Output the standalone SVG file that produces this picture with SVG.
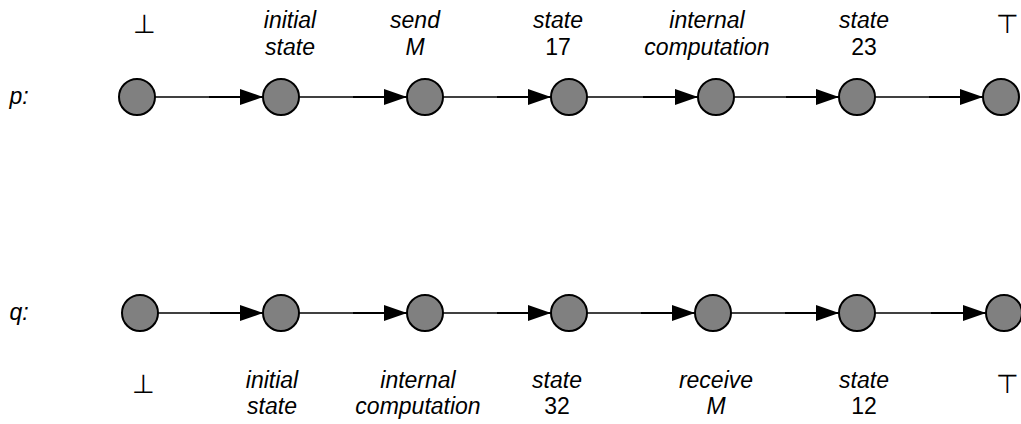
<svg xmlns="http://www.w3.org/2000/svg" width="1021" height="424" viewBox="0 0 1021 424">
<style>
.n{fill:#808080;stroke:#000;stroke-width:2}
.t{font-family:"Liberation Sans",Arial,sans-serif;font-size:23px;font-style:italic;text-anchor:middle;fill:#000}
.u{font-family:"Liberation Sans",Arial,sans-serif;font-size:23px;text-anchor:middle;fill:#000}
.s{font-family:"DejaVu Sans",sans-serif;font-size:26px;font-weight:200;text-anchor:middle;fill:#000}
.l1{stroke:#000;stroke-width:1.4;fill:none}
.l2{stroke:#000;stroke-width:2.2;fill:none}
</style>
<defs>
<marker id="ah" markerUnits="userSpaceOnUse" markerWidth="24" markerHeight="18" viewBox="0 0 24 18" refX="23" refY="9" orient="auto">
<path d="M0,1 L23,9 L0,17 z" fill="#000"/>
</marker>
</defs>
<text class="t" x="19" y="104">p:</text>
<text class="t" x="19" y="320">q:</text>
<g id="connectors">
<path class="l1" d="M155,97 H209"/><path class="l2" d="M209,97 H263" marker-end="url(#ah)"/>
<path class="l1" d="M299,97 H353"/><path class="l2" d="M353,97 H407" marker-end="url(#ah)"/>
<path class="l1" d="M443,97 H497"/><path class="l2" d="M497,97 H551" marker-end="url(#ah)"/>
<path class="l1" d="M587,97 H643"/><path class="l2" d="M643,97 H698" marker-end="url(#ah)"/>
<path class="l1" d="M734,97 H786"/><path class="l2" d="M786,97 H839" marker-end="url(#ah)"/>
<path class="l1" d="M875,97 H929"/><path class="l2" d="M929,97 H983" marker-end="url(#ah)"/>
<path class="l1" d="M158,313 H210"/><path class="l2" d="M210,313 H263" marker-end="url(#ah)"/>
<path class="l1" d="M299,313 H353"/><path class="l2" d="M353,313 H407" marker-end="url(#ah)"/>
<path class="l1" d="M443,313 H497"/><path class="l2" d="M497,313 H551" marker-end="url(#ah)"/>
<path class="l1" d="M587,313 H641"/><path class="l2" d="M641,313 H695" marker-end="url(#ah)"/>
<path class="l1" d="M731,313 H785"/><path class="l2" d="M785,313 H839" marker-end="url(#ah)"/>
<path class="l1" d="M875,313 H931"/><path class="l2" d="M931,313 H986" marker-end="url(#ah)"/>
</g>
<g id="p0"><circle class="n" cx="137" cy="97" r="18"/><text class="s" x="144" y="33">⊥</text></g>
<g id="p1"><circle class="n" cx="281" cy="97" r="18"/><text class="t" x="290" y="28">initial</text><text class="t" x="290" y="55">state</text></g>
<g id="p2"><circle class="n" cx="425" cy="97" r="18"/><text class="t" x="415" y="28">send</text><text class="t" x="415" y="55">M</text></g>
<g id="p3"><circle class="n" cx="569" cy="97" r="18"/><text class="t" x="558" y="28">state</text><text class="u" x="558" y="55">17</text></g>
<g id="p4"><circle class="n" cx="716" cy="97" r="18"/><text class="t" x="707" y="28">internal</text><text class="t" x="707" y="55">computation</text></g>
<g id="p5"><circle class="n" cx="857" cy="97" r="18"/><text class="t" x="864" y="28">state</text><text class="u" x="864" y="55">23</text></g>
<g id="p6"><circle class="n" cx="1001" cy="97" r="18"/><text class="s" x="1007" y="33">⊤</text></g>
<g id="q0"><circle class="n" cx="140" cy="313" r="18"/><text class="s" x="143" y="393">⊥</text></g>
<g id="q1"><circle class="n" cx="281" cy="313" r="18"/><text class="t" x="272" y="388">initial</text><text class="t" x="272" y="414">state</text></g>
<g id="q2"><circle class="n" cx="425" cy="313" r="18"/><text class="t" x="418" y="388">internal</text><text class="t" x="418" y="414">computation</text></g>
<g id="q3"><circle class="n" cx="569" cy="313" r="18"/><text class="t" x="557" y="388">state</text><text class="u" x="557" y="414">32</text></g>
<g id="q4"><circle class="n" cx="713" cy="313" r="18"/><text class="t" x="716" y="388">receive</text><text class="t" x="716" y="414">M</text></g>
<g id="q5"><circle class="n" cx="857" cy="313" r="18"/><text class="t" x="864" y="388">state</text><text class="u" x="864" y="414">12</text></g>
<g id="q6"><circle class="n" cx="1004" cy="313" r="18"/><text class="s" x="1007" y="393">⊤</text></g>
</svg>
